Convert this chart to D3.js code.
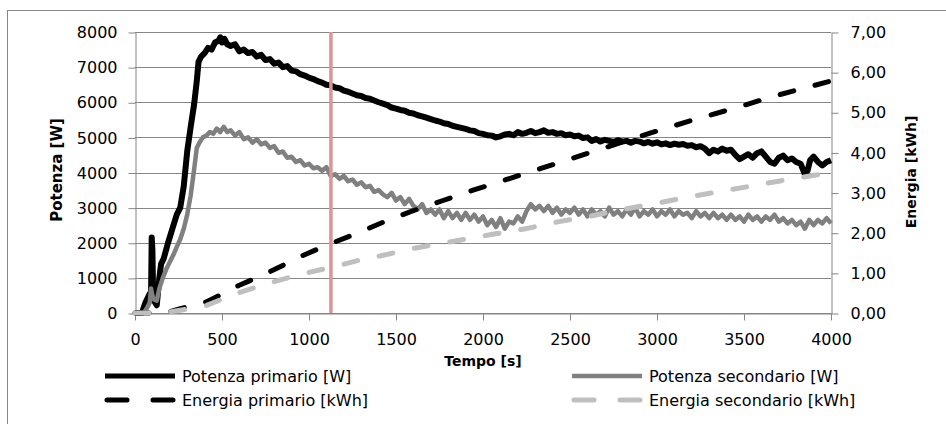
<!DOCTYPE html>
<html>
<head>
<meta charset="utf-8">
<script src="https://cdn.jsdelivr.net/npm/d3@7"></script>
<style>
  body { margin: 0; background: #fff; }
  svg { display: block; }
  text { font-family: "DejaVu Sans", sans-serif; fill: #000; }
</style>
</head>
<body>
<script>
var width = 946,
    height = 424;

// tempo [s] / potenza [W]
const potenza_primario = [
  [0,0],[40,0],[60,300],[85,550],[92,450],[96,2150],[100,1800],[104,600],[115,300],[125,220],
  [140,1000],[150,1400],[165,1550],[190,2000],[215,2400],[240,2800],[260,3000],[280,3600],[300,4600],
  [320,5300],[340,5950],[355,6600],[365,7150],[380,7300],[400,7400],[420,7550],[440,7500],[460,7700],
  [480,7750],[490,7850],[500,7700],[515,7800],[530,7650],[550,7600],[575,7650],[600,7450],[625,7500],
  [650,7400],[675,7430],[700,7300],[725,7350],[750,7200],[775,7230],[800,7100],[825,7130],[850,7000],
  [875,7030],[900,6900],[925,6880],[950,6800],[975,6760],[1000,6700],[1025,6660],[1050,6600],[1075,6560],
  [1100,6500],[1125,6480],[1150,6420],[1175,6400],[1200,6330],[1225,6300],[1250,6250],[1275,6200],
  [1300,6180],[1325,6120],[1350,6100],[1375,6050],[1400,6000],[1425,5960],[1450,5920],[1475,5850],
  [1500,5820],[1525,5780],[1550,5760],[1575,5700],[1600,5680],[1625,5630],[1650,5600],[1675,5560],
  [1700,5520],[1725,5480],[1750,5450],[1775,5400],[1800,5380],[1825,5330],[1850,5300],[1875,5270],
  [1900,5240],[1925,5200],[1950,5180],[1975,5120],[2000,5100],[2025,5060],[2050,5050],[2075,5000],
  [2100,5030],[2125,5080],[2150,5100],[2175,5060],[2200,5150],[2225,5100],[2250,5130],[2275,5180],
  [2300,5120],[2325,5150],[2350,5200],[2375,5130],[2400,5150],[2425,5100],[2450,5120],[2475,5060],
  [2500,5080],[2525,5030],[2550,5050],[2575,4980],[2600,5000],[2625,4900],[2650,4950],[2675,4880],
  [2700,4930],[2725,4900],[2750,4870],[2775,4920],[2800,4880],[2825,4900],[2850,4850],[2875,4900],
  [2900,4880],[2925,4830],[2950,4870],[2975,4820],[3000,4860],[3025,4800],[3050,4830],[3075,4780],
  [3100,4820],[3125,4790],[3150,4810],[3175,4760],[3200,4780],[3225,4720],[3250,4750],[3275,4680],
  [3300,4550],[3325,4650],[3350,4600],[3375,4680],[3400,4620],[3425,4650],[3450,4500],[3475,4380],
  [3500,4450],[3525,4520],[3550,4420],[3575,4550],[3600,4600],[3625,4450],[3650,4300],[3675,4250],
  [3700,4420],[3725,4480],[3750,4350],[3775,4400],[3800,4300],[3825,4250],[3850,3950],[3865,4050],
  [3880,4350],[3900,4450],[3925,4300],[3950,4200],[3975,4300],[4000,4350]
];

const potenza_secondario = [
  [0,0],[50,0],[70,150],[85,300],[92,700],[98,550],[105,400],[125,350],[140,700],[160,1000],
  [180,1250],[200,1450],[220,1650],[240,1880],[260,2100],[280,2400],[300,2800],[320,3350],[340,4100],
  [355,4700],[370,4850],[390,5000],[410,5050],[430,5150],[450,5100],[470,5250],[490,5150],[510,5300],
  [530,5150],[550,5200],[575,5050],[600,5150],[625,4950],[650,5000],[675,4850],[700,4950],[725,4800],
  [750,4850],[775,4700],[800,4750],[825,4560],[850,4600],[875,4420],[900,4450],[925,4300],[950,4350],
  [975,4200],[1000,4250],[1025,4120],[1050,4150],[1075,4050],[1100,4150],[1125,3900],[1150,3950],
  [1175,3820],[1200,3900],[1225,3750],[1250,3800],[1275,3650],[1300,3720],[1325,3580],[1350,3620],
  [1375,3450],[1400,3500],[1425,3380],[1450,3300],[1475,3420],[1500,3200],[1525,3300],[1550,3100],
  [1575,3250],[1600,3050],[1625,2950],[1650,3100],[1675,2850],[1700,2950],[1725,2800],[1750,2950],
  [1775,2700],[1800,2900],[1825,2700],[1850,2850],[1875,2650],[1900,2850],[1925,2650],[1950,2800],
  [1975,2600],[2000,2750],[2025,2500],[2050,2650],[2075,2450],[2100,2700],[2125,2400],[2150,2600],
  [2175,2550],[2200,2750],[2225,2600],[2250,2900],[2275,3100],[2300,2950],[2325,3050],[2350,2900],
  [2375,3050],[2400,2850],[2425,3000],[2450,2800],[2475,2950],[2500,2850],[2525,3000],[2550,2800],
  [2575,2950],[2600,2750],[2625,2950],[2650,2800],[2675,2900],[2700,2750],[2725,3000],[2750,2800],
  [2775,2900],[2800,2750],[2825,2950],[2850,2800],[2875,3000],[2900,2750],[2925,2900],[2950,2800],
  [2975,2950],[3000,2750],[3025,2900],[3050,2800],[3075,2950],[3100,2750],[3125,2900],[3150,2800],
  [3175,2850],[3200,2700],[3225,2900],[3250,2750],[3275,2850],[3300,2700],[3325,2850],[3350,2700],
  [3375,2800],[3400,2650],[3425,2800],[3450,2650],[3475,2750],[3500,2600],[3525,2800],[3550,2650],
  [3575,2750],[3600,2600],[3625,2750],[3650,2650],[3675,2800],[3700,2600],[3725,2700],[3750,2550],
  [3775,2650],[3800,2500],[3825,2600],[3850,2400],[3875,2650],[3900,2500],[3925,2650],[3950,2550],
  [3975,2700],[4000,2550]
];

// tempo [s] / energia [kWh]
const energia_primario = [
  [0,0],[150,0],[200,0.03],[260,0.11],[320,0.17],[412,0.28],[500,0.47],[603,0.70],[700,0.88],
  [795,1.07],[958,1.42],[1102,1.69],[1274,1.98],[1408,2.23],[1580,2.52],[1762,2.79],[1943,3.06],
  [2055,3.21],[2237,3.47],[2420,3.72],[2596,3.97],[2960,4.48],[3200,4.80],[3420,5.07],[3688,5.42],
  [4000,5.78]
];

const energia_secondario = [
  [0,0],[150,0],[201,0.03],[259,0.07],[330,0.12],[412,0.19],[565,0.46],[757,0.73],[948,0.96],
  [1121,1.13],[1303,1.33],[1408,1.42],[1590,1.60],[1782,1.75],[1963,1.89],[2055,1.96],[2245,2.10],
  [2429,2.27],[2615,2.41],[2730,2.52],[2969,2.71],[3207,2.91],[3408,3.06],[3707,3.29],[4000,3.50]
];

// istante evidenziato [s]
const marker_time = [1126];

const x_ticks = [0, 500, 1000, 1500, 2000, 2500, 3000, 3500, 4000];
const y_ticks = [0, 1000, 2000, 3000, 4000, 5000, 6000, 7000, 8000];
const y2_ticks = [0, 1, 2, 3, 4, 5, 6, 7];

const legend_items = [
  { name: "Potenza primario [W]", color: "#000000", width: 6, dash: null },
  { name: "Potenza secondario [W]", color: "#808080", width: 4.5, dash: null },
  { name: "Energia primario [kWh]", color: "#000000", width: 5, dash: "14,22" },
  { name: "Energia secondario [kWh]", color: "#bfbfbf", width: 5, dash: "14,22" }
];

const grey = "#868686";

const svg = d3.select("body").append("svg")
    .attr("width", width)
    .attr("height", height);

// chart border
svg.append("rect")
    .attr("x", 7.5).attr("y", 10.5)
    .attr("width", 945).attr("height", 420)
    .attr("fill", "none")
    .attr("stroke", grey);

const x = d3.scaleLinear().domain([0, 4000]).range([135, 831]);
const y = d3.scaleLinear().domain([0, 8000]).range([313, 32]);
const y2 = d3.scaleLinear().domain([0, 7]).range([313, 32]);

// gridlines
svg.append("g")
    .selectAll("line")
    .data(y_ticks)
    .join("line")
    .attr("x1", x(0)).attr("x2", x(4000))
    .attr("y1", d => Math.round(y(d)) + 0.5)
    .attr("y2", d => Math.round(y(d)) + 0.5)
    .attr("stroke", grey);

const style_axis = (g) => {
    g.selectAll(".domain").attr("stroke", grey);
    g.selectAll(".tick line").attr("stroke", grey);
    g.selectAll("text").attr("font-size", 16).attr("font-family", "DejaVu Sans").attr("fill", "#000");
};

svg.append("g")
    .attr("transform", "translate(" + (x(0) + 0.5) + ",0.5)")
    .call(d3.axisLeft(y).tickValues(y_ticks).tickSize(7).tickSizeOuter(0).tickPadding(11)
        .tickFormat(d3.format("d")))
    .call(style_axis);

svg.append("g")
    .attr("transform", "translate(" + (x(4000) + 0.5) + ",0.5)")
    .call(d3.axisRight(y2).tickValues(y2_ticks).tickSize(7).tickSizeOuter(0).tickPadding(12)
        .tickFormat(d => d3.format(".2f")(d).replace(".", ",")))
    .call(style_axis);

svg.append("g")
    .attr("transform", "translate(0," + (y(0) + 0.5) + ")")
    .call(d3.axisBottom(x).tickValues(x_ticks).tickSize(7).tickSizeOuter(0).tickPadding(13)
        .tickFormat(d3.format("d")))
    .call(style_axis);

// series
const line_p = d3.line().x(d => x(d[0])).y(d => y(d[1]));
const line_e = d3.line().x(d => x(d[0])).y(d => y2(d[1]));

svg.append("path")
    .datum(potenza_primario)
    .attr("d", line_p)
    .attr("fill", "none")
    .attr("stroke", legend_items[0].color)
    .attr("stroke-width", legend_items[0].width)
    .attr("stroke-linejoin", "round");

svg.append("path")
    .datum(potenza_secondario)
    .attr("d", line_p)
    .attr("fill", "none")
    .attr("stroke", legend_items[1].color)
    .attr("stroke-width", legend_items[1].width)
    .attr("stroke-linejoin", "round");

[[energia_primario, legend_items[2]], [energia_secondario, legend_items[3]]].forEach(function (s) {
    svg.append("path")
        .datum(s[0])
        .attr("d", line_e)
        .attr("fill", "none")
        .attr("stroke", s[1].color)
        .attr("stroke-width", s[1].width)
        .attr("stroke-dasharray", s[1].dash)
        .attr("stroke-linecap", "round");
});

// red marker line
svg.selectAll(".marker")
    .data(marker_time)
    .join("line")
    .attr("class", "marker")
    .attr("x1", d => x(d)).attr("x2", d => x(d))
    .attr("y1", y(8000)).attr("y2", y(0))
    .attr("stroke", "#d99694")
    .attr("stroke-width", 3.5);

// axis titles
svg.append("text")
    .attr("x", 483).attr("y", 366)
    .attr("text-anchor", "middle")
    .attr("font-size", 14).attr("font-weight", "bold")
    .text("Tempo [s]");

svg.append("text")
    .attr("transform", "translate(62,170) rotate(-90)")
    .attr("text-anchor", "middle")
    .attr("font-size", 15).attr("font-weight", "bold")
    .text("Potenza [W]");

svg.append("text")
    .attr("transform", "translate(916,172) rotate(-90)")
    .attr("text-anchor", "middle")
    .attr("font-size", 14).attr("font-weight", "bold")
    .text("Energia [kWh]");

// legend
const legend = svg.append("g")
    .selectAll("g")
    .data(legend_items)
    .join("g")
    .attr("transform", (d, i) => "translate(" + (i % 2 ? 572 : 105) + "," + (i < 2 ? 376 : 400) + ")");

legend.append("line")
    .attr("x1", d => d.dash ? 2 : 0).attr("x2", d => d.dash ? 68 : 70)
    .attr("stroke", d => d.color)
    .attr("stroke-width", d => Math.min(d.width, 5))
    .attr("stroke-dasharray", d => d.dash ? "20,26" : null)
    .attr("stroke-linecap", d => d.dash ? "round" : "butt");

legend.append("text")
    .attr("x", 77).attr("dy", "0.35em")
    .attr("font-size", 16)
    .text(d => d.name);
</script>
</body>
</html>
